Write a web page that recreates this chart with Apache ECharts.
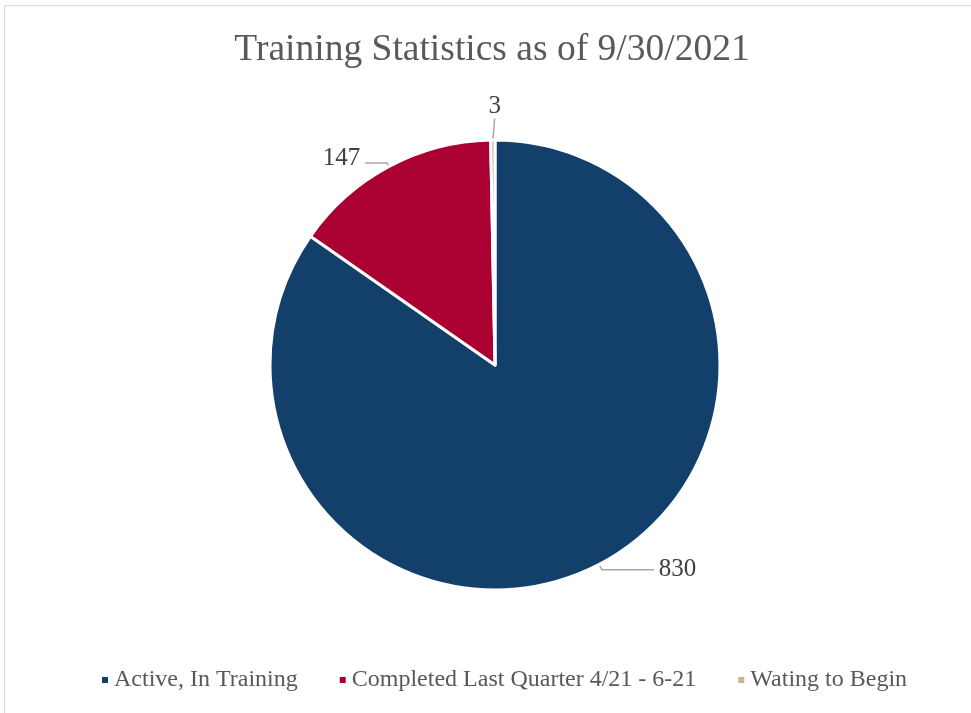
<!DOCTYPE html>
<html>
<head>
<meta charset="utf-8">
<title>Training Statistics</title>
<script src="https://cdn.jsdelivr.net/npm/echarts@6/dist/echarts.min.js"></script>
<style>
  html, body { margin: 0; padding: 0; background: #fff; }
  #main { width: 971px; height: 713px; position: relative; }
  #frame {
    position: absolute; left: 4px; top: 5px; right: -2px; bottom: -2px;
    border-left: 1px solid #d9d9d9; border-top: 1px solid #d9d9d9;
    pointer-events: none;
  }
</style>
</head>
<body>
<div style="position:relative;width:971px;height:713px;">
  <div id="main"></div>
  <div id="frame"></div>
</div>
<script>
// 数据
var categories = ['Active, In Training', 'Completed Last Quarter 4/21 - 6-21', 'Wating to Begin'];
var values = [830, 147, 3];
var colors = ['#133f6b', '#ab0032', '#c4b48f'];

var serif = 'Liberation Serif';

// 每个扇区的引导线长度
var lineLen = [[6, 52], [4, 22], [20, 0]];

var pieData = [];
for (var i = 0; i < categories.length; i++) {
    pieData.push({
        name: categories[i],
        value: values[i],
        itemStyle: { color: colors[i] },
        labelLine: { length: lineLen[i][0], length2: lineLen[i][1] }
    });
}

var myChart = echarts.init(document.getElementById('main'));

var option = {
    backgroundColor: 'transparent',
    textStyle: { fontFamily: serif },
    title: {
        text: 'Training Statistics as of 9/30/2021',
        left: 487,
        textAlign: 'center',
        top: 26,
        textStyle: {
            fontFamily: serif,
            fontSize: 37.5,
            fontWeight: 'normal',
            color: '#595959'
        }
    },
    legend: {
        bottom: 21,
        left: 100,
        padding: 0,
        icon: 'rect',
        itemWidth: 8,
        itemHeight: 8,
        itemGap: 40,
        textStyle: {
            fontFamily: serif,
            fontSize: 24,
            color: '#595959'
        },
        data: categories
    },
    series: [{
        type: 'pie',
        center: [495, 365],
        radius: [0, 225],
        startAngle: 90,
        clockwise: true,
        avoidLabelOverlap: false,
        itemStyle: {
            borderColor: '#ffffff',
            borderWidth: 3
        },
        label: {
            show: true,
            formatter: '{c}',
            fontFamily: serif,
            fontSize: 25,
            color: '#404040'
        },
        labelLine: {
            show: true,
            lineStyle: { color: '#a6a6a6', width: 1.5 }
        },
        // 小扇区的标签放在引导线上方
        labelLayout: function (params) {
            if (params.dataIndex === 2) {
                return {
                    x: params.labelLinePoints[1][0] + 2,
                    y: params.labelLinePoints[1][1] - 14,
                    align: 'center',
                    verticalAlign: 'middle'
                };
            }
            if (params.dataIndex === 1) {
                return { dy: -5 };
            }
        },
        data: pieData
    }]
};

myChart.setOption(option);
</script>
</body>
</html>
